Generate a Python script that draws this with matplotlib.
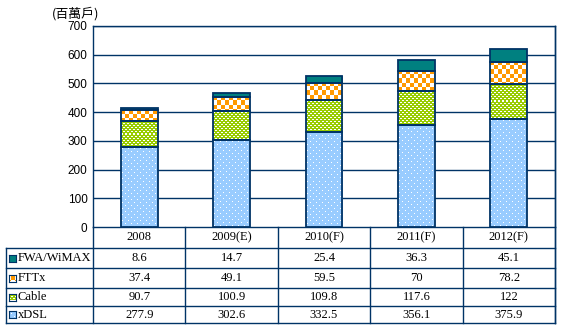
import numpy as np
import matplotlib
matplotlib.use("Agg")
import matplotlib.pyplot as plt
from matplotlib.lines import Line2D
from matplotlib.transforms import blended_transform_factory

# ---- data (millions of households) ----
categories = ["2008", "2009(E)", "2010(F)", "2011(F)", "2012(F)"]
xdsl = [277.9, 302.6, 332.5, 356.1, 375.9]
cable = [90.7, 100.9, 109.8, 117.6, 122]
fttx = [37.4, 49.1, 59.5, 70, 78.2]
fwa = [8.6, 14.7, 25.4, 36.3, 45.1]
series_names = ["FWA/WiMAX", "FTTx", "Cable", "xDSL"]
series_labels = {"FWA/WiMAX": ["8.6", "14.7", "25.4", "36.3", "45.1"],
                 "FTTx": ["37.4", "49.1", "59.5", "70", "78.2"],
                 "Cable": ["90.7", "100.9", "109.8", "117.6", "122"],
                 "xDSL": ["277.9", "302.6", "332.5", "356.1", "375.9"]}
yticks = [0, 100, 200, 300, 400, 500, 600, 700]
unit_label = "(百萬戶)"

W, H = 565, 327
NAVY = "#003366"
BLUE = np.array([0x99, 0xCC, 0xFF]) / 255
GREEN = np.array([0x99, 0xCC, 0x00]) / 255
ORANGE = np.array([0xFF, 0x99, 0x00]) / 255
TEAL = np.array([0x00, 0x80, 0x80]) / 255
WHITE = np.array([1.0, 1.0, 1.0])


def tile_dots(h, w):
    m = np.zeros((h, w), bool)
    m[1::6, 1::6] = True
    m[4::6, 4::6] = True
    return m


def tile_dashes(h, w):
    yy, xx = np.mgrid[0:h, 0:w]
    row_a = (yy % 4 == 1) & (xx % 4 < 2)
    row_b = (yy % 4 == 3) & (xx % 4 >= 2)
    return row_a | row_b


def tile_checker(h, w):
    yy, xx = np.mgrid[0:h, 0:w]
    return ((yy // 4 + xx // 4) % 2) == 1


def tile_solid(h, w):
    return np.zeros((h, w), bool)


styles = {
    "xDSL": (BLUE, tile_dots),
    "Cable": (GREEN, tile_dashes),
    "FTTx": (ORANGE, tile_checker),
    "FWA/WiMAX": (TEAL, tile_solid),
}


def pattern_image(name, h, w, shift=0):
    base, fn = styles[name]
    m = fn(max(h, 1) + shift, max(w, 1) + shift)[shift:, shift:]
    img = np.empty(m.shape + (3,))
    img[:] = base
    img[m] = WHITE
    return img


plt.rcParams["font.family"] = ["Liberation Sans", "DejaVu Sans"]
fig = plt.figure(figsize=(W / 100, H / 100), dpi=100)

x0, x1, ytop, ybot = 93, 555, 26, 227
ax = fig.add_axes([x0 / W, 1 - ybot / H, (x1 - x0) / W, (ybot - ytop) / H])
ax.set_xlim(-0.5, len(categories) - 0.5)
ax.set_ylim(0, 700)

# horizontal gridlines
for t in yticks[1:]:
    ax.axhline(t, color=NAVY, lw=1.0, zorder=1)
for s in ax.spines.values():
    s.set_color(NAVY)
    s.set_linewidth(1.0)
ax.set_xticks([])
ax.set_yticks(yticks)
ax.tick_params(axis="y", length=0, pad=4, labelsize=8.5, colors="black")

# stacked bars filled with pixel patterns
bar_w = 0.4
stack = [("xDSL", xdsl), ("Cable", cable), ("FTTx", fttx), ("FWA/WiMAX", fwa)]
bottoms = np.zeros(len(categories))
xs = np.arange(len(categories))
px_per_x = (x1 - x0) / len(categories)
px_per_y = (ybot - ytop) / 700
for name, vals in stack:
    vals = np.asarray(vals, float)
    bars = ax.bar(xs, vals, bar_w, bottom=bottoms, facecolor="none",
                  edgecolor=NAVY, linewidth=1.3, zorder=4)
    for xi, b, v, patch in zip(xs, bottoms, vals, bars.patches):
        wpx = int(round(bar_w * px_per_x))
        hpx = int(round(v * px_per_y))
        img = pattern_image(name, hpx, wpx)
        im = ax.imshow(img, extent=(xi - bar_w / 2, xi + bar_w / 2, b, b + v),
                       origin="upper", interpolation="nearest", aspect="auto", zorder=3)
        im.set_clip_path(patch)
    bottoms = bottoms + vals
ax.set_xlim(-0.5, len(categories) - 0.5)
ax.set_ylim(0, 700)

# unit label
fig.text(76 / W, 1 - 14 / H, unit_label, ha="center", va="center", fontsize=9.3,
         family=["Noto Sans CJK TC", "DejaVu Sans"])

# data table below the axes
fy = lambda y: 1 - y / H
fx = lambda x: x / W
row_lines = [248, 268, 288, 306, 323]
col_lines = [x0 + i * px_per_x for i in range(len(categories) + 1)]


def fig_line(xa, ya, xb, yb):
    fig.add_artist(Line2D([fx(xa), fx(xb)], [fy(ya), fy(yb)], color=NAVY, lw=1.0,
                          transform=fig.transFigure))


for y in row_lines:
    fig_line(6, y, x1, y)
fig_line(6, 248, 6, 323)
for x in col_lines:
    fig_line(x, ybot, x, 323)
fig_line(x1, ytop, x1, 323)

trans = blended_transform_factory(ax.transData, fig.transFigure)
serif = ["Liberation Serif", "DejaVu Serif"]
fs = 9
for xi, c in zip(xs, categories):
    fig.text(xi, fy((ybot + 248) / 2), c, transform=trans, ha="center", va="center",
             fontsize=fs, family=serif)

for r, name in enumerate(series_names):
    yc = (row_lines[r] + row_lines[r + 1]) / 2
    fig.text(fx(18), fy(yc), name, ha="left", va="center", fontsize=fs, family=serif)
    for xi, lab in zip(xs, series_labels[name]):
        fig.text(xi, fy(yc), lab, transform=trans, ha="center", va="center",
                 fontsize=fs, family=serif)
    # legend key
    key = pattern_image(name, 7, 7, shift=2)
    kx, ky = 9, yc - 3.5
    kax = fig.add_axes([fx(kx), fy(ky + 7), 7 / W, 7 / H])
    kax.imshow(key, interpolation="nearest", aspect="auto")
    kax.set_xticks([])
    kax.set_yticks([])
    for s in kax.spines.values():
        s.set_color(NAVY)
        s.set_linewidth(0.8)

fig.savefig("out.png", dpi=100)
